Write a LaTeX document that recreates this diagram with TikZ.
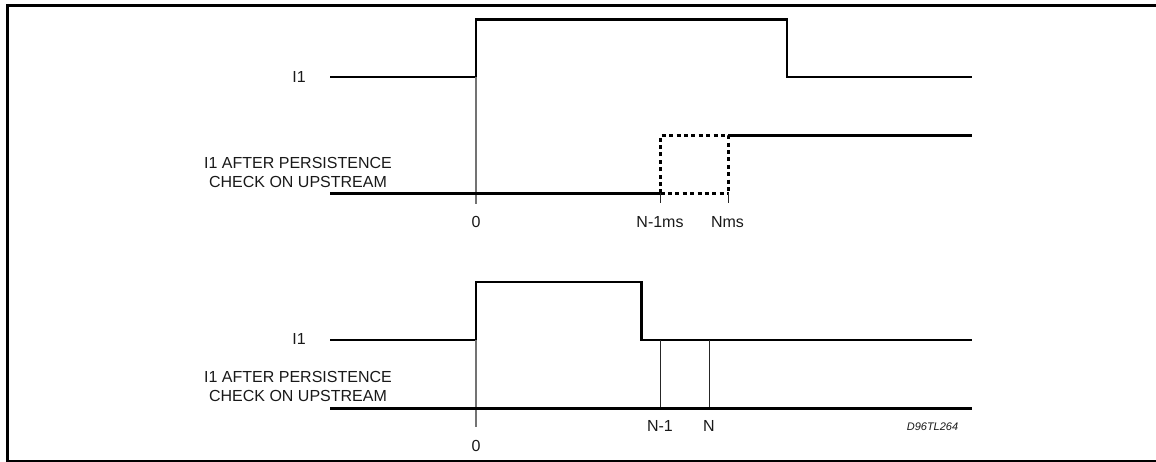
\documentclass[tikz,border=0pt]{standalone}
\usepackage{fontspec}
\setmainfont{Liberation Sans}
\begin{document}
\begin{tikzpicture}[x=1pt,y=-1pt,
  sig/.style={line width=2.6pt, line join=miter},
  dotsig/.style={line width=2.6pt, dash pattern=on 4pt off 3.4pt},
  zeroline/.style={line width=1.1pt, draw=black!55},
  mark line/.style={line width=0.9pt, draw=black!85},
  lbl/.style={inner sep=0pt, font=\fontsize{16}{19}\selectfont, text=black!90},
  stack/.style={lbl, align=center},
  code/.style={inner sep=0pt, font=\fontsize{11}{13}\selectfont\itshape, text=black!90},
  frameline/.style={line width=3pt}]
\useasboundingbox (0,0) rectangle (1156,462);
% frame
\draw[frameline] (1160,5.5) -- (7.5,5.5) -- (7.5,461.5) -- (1160,461.5);

% ---------- top diagram ----------
\node[lbl] (t_i1) at (299,77) {I1};
\node[stack] (t_after) at (298,172.5) {I1 AFTER PERSISTENCE\\CHECK ON UPSTREAM};
\coordinate (t_s0) at (330,77);
\coordinate (t_e0) at (972,77);
\draw[sig] (t_s0) -- (476,77) -- (476,19.5) -- (787,19.5) -- (787,77) -- (t_e0);
\draw[zeroline] (476,77) -- (476,204);
\node[lbl] (t_zero) at (476,222) {0};

\draw[sig] (330,193.5) -- (660.5,193.5);
\draw[dotsig] (660.5,193.5) -- (660.5,135.5) -- (728.5,135.5) -- (728.5,193.5);
\draw[dotsig] (660.5,193.5) -- (728.5,193.5);
\draw[sig] (728.5,135.5) -- (972,135.5);
\draw[mark line] (660.5,193.5) -- (660.5,203.5);
\draw[mark line] (728.5,193.5) -- (728.5,203.5);
\node[lbl] (t_n1) at (660,222) {N-1ms};
\node[lbl] (t_n) at (727.5,222) {Nms};

% ---------- bottom diagram ----------
\node[lbl] (b_i1) at (299,338.5) {I1};
\node[stack] (b_after) at (298,386.5) {I1 AFTER PERSISTENCE\\CHECK ON UPSTREAM};
\draw[sig] (330,340) -- (476,340) -- (476,282) -- (641.3,282) -- (641.3,340) -- (972,340);
\draw[zeroline] (476,340) -- (476,427);
\node[lbl] (b_zero) at (476,446) {0};
\draw[mark line] (660.7,340) -- (660.7,408);
\draw[mark line] (709.3,340) -- (709.3,408);
\draw[sig] (330,408.3) -- (972,408.3);
\node[lbl] (b_n1) at (660,426) {N-1};
\node[lbl] (b_n) at (709,426) {N};
\node[code] (b_code) at (932.5,427) {D96TL264};
\end{tikzpicture}
\end{document}
